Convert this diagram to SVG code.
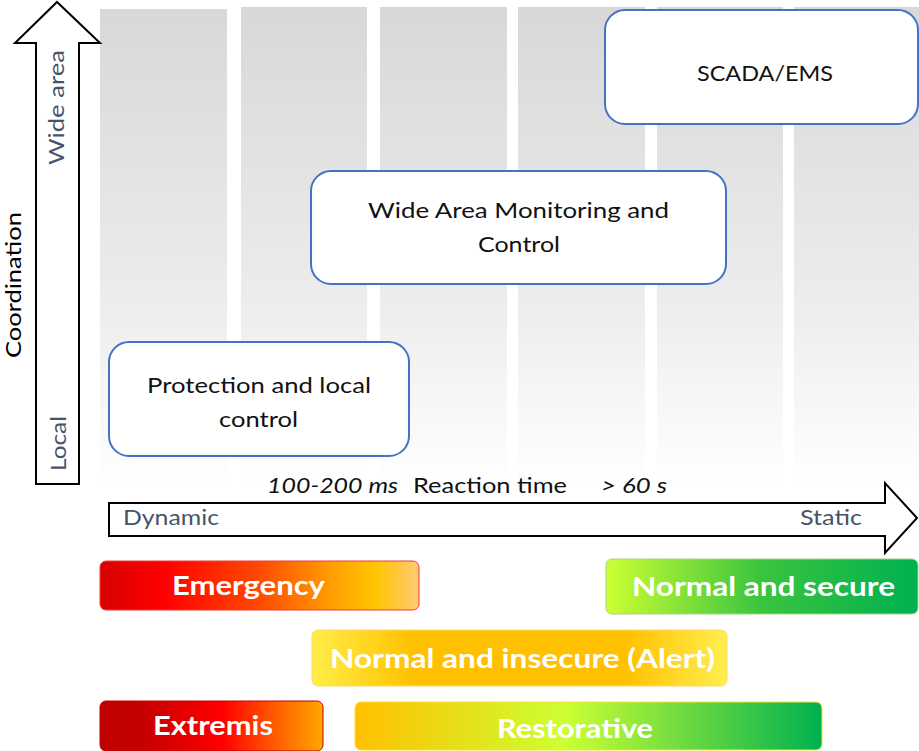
<svg xmlns="http://www.w3.org/2000/svg" width="919" height="751" viewBox="0 0 919 751">
  <defs>
    <linearGradient id="colFade" x1="0" y1="0" x2="0" y2="1">
      <stop offset="0" stop-color="#d8d8d8"/>
      <stop offset="0.6" stop-color="#ececec"/>
      <stop offset="1" stop-color="#ffffff"/>
    </linearGradient>
    <linearGradient id="gEmergency" x1="0" y1="0" x2="1" y2="0">
      <stop offset="0" stop-color="#d80000"/>
      <stop offset="0.2" stop-color="#ff0000"/>
      <stop offset="0.5" stop-color="#ff4a00"/>
      <stop offset="0.72" stop-color="#ff9c00"/>
      <stop offset="0.86" stop-color="#ffc400"/>
      <stop offset="1" stop-color="#ffcb74"/>
    </linearGradient>
    <linearGradient id="gExtremis" x1="0" y1="0" x2="1" y2="0">
      <stop offset="0" stop-color="#c00000"/>
      <stop offset="0.18" stop-color="#c40000"/>
      <stop offset="0.55" stop-color="#ff0000"/>
      <stop offset="0.78" stop-color="#ff5a00"/>
      <stop offset="1" stop-color="#ffa800"/>
    </linearGradient>
    <linearGradient id="gAlert" x1="0" y1="0" x2="1" y2="0">
      <stop offset="0" stop-color="#ffee48"/>
      <stop offset="0.25" stop-color="#ffc000"/>
      <stop offset="0.75" stop-color="#ffc000"/>
      <stop offset="1" stop-color="#ffee50"/>
    </linearGradient>
    <linearGradient id="gRestorative" x1="0" y1="0" x2="1" y2="0">
      <stop offset="0" stop-color="#ffc000"/>
      <stop offset="0.45" stop-color="#ccff33"/>
      <stop offset="1" stop-color="#00b050"/>
    </linearGradient>
    <linearGradient id="gSecure" x1="0" y1="0" x2="1" y2="0">
      <stop offset="0" stop-color="#ccff33"/>
      <stop offset="0.5" stop-color="#3ac43e"/>
      <stop offset="1" stop-color="#00b050"/>
    </linearGradient>
  </defs>
  <style>
    .col { fill: url(#colFade); }
    .axis { fill: #ffffff; stroke: #000000; stroke-width: 2; stroke-linejoin: miter; }
    .box { fill: #ffffff; stroke: #4472c4; stroke-width: 2; }
    .boxText { font-family: Lato, "Liberation Sans", sans-serif; font-size: 22px; fill: #111111; text-anchor: middle; }
    .slate { font-family: Lato, "Liberation Sans", sans-serif; font-size: 22px; fill: #44546a; }
    .axisTitle { font-family: Lato, "Liberation Sans", sans-serif; font-size: 22px; fill: #000000; }
    .time { font-family: Lato, "Liberation Sans", sans-serif; font-size: 22px; fill: #111111; }
    .state { font-family: Lato, "Liberation Sans", sans-serif; font-size: 27px; font-weight: bold; fill: #ffffff; text-anchor: middle; }
  </style>

  <!-- background time-scale columns -->
  <g id="columns">
    <rect class="col" x="100" y="9" width="127" height="477"/>
    <rect class="col" x="241" y="7" width="126" height="479"/>
    <rect class="col" x="380" y="7" width="127" height="479"/>
    <rect class="col" x="518" y="7" width="127" height="479"/>
    <rect class="col" x="657" y="7" width="126" height="479"/>
    <rect class="col" x="794" y="7" width="125" height="479"/>
  </g>

  <!-- coordination axis (vertical block arrow) -->
  <g id="coordination-axis">
    <polygon class="axis" points="36,484 36,43 15,43 57,2 100,43 79,43 79,484"/>
    <text class="slate" transform="translate(64,165) rotate(-90)" textLength="115" lengthAdjust="spacingAndGlyphs">Wide area</text>
    <text class="slate" transform="translate(66,471) rotate(-90)" textLength="55" lengthAdjust="spacingAndGlyphs">Local</text>
    <text class="axisTitle" transform="translate(21,358) rotate(-90)" textLength="146" lengthAdjust="spacingAndGlyphs">Coordination</text>
  </g>

  <!-- reaction time axis (horizontal block arrow) -->
  <g id="time-axis">
    <polygon class="axis" points="109,503 885,503 885,483 917,518 885,553 885,536 109,536"/>
    <text class="slate" x="123" y="525" textLength="96" lengthAdjust="spacingAndGlyphs">Dynamic</text>
    <text class="slate" x="800" y="525" textLength="62" lengthAdjust="spacingAndGlyphs">Static</text>
    <text class="time" x="267" y="493" font-style="italic" textLength="131" lengthAdjust="spacingAndGlyphs">100-200 ms</text>
    <text class="time" x="413" y="493" textLength="154" lengthAdjust="spacingAndGlyphs">Reaction time</text>
    <text class="time" x="601" y="493" font-style="italic" textLength="66" lengthAdjust="spacingAndGlyphs">&gt; 60 s</text>
  </g>

  <!-- control layers -->
  <g id="scada-ems">
    <rect class="box" x="605" y="10" width="313" height="114" rx="20"/>
    <text class="boxText" x="765" y="81" textLength="136" lengthAdjust="spacingAndGlyphs">SCADA/EMS</text>
  </g>
  <g id="wide-area-monitoring">
    <rect class="box" x="311" y="171" width="415" height="113" rx="20"/>
    <text class="boxText" x="518.5" y="218" textLength="301" lengthAdjust="spacingAndGlyphs">Wide Area Monitoring and</text>
    <text class="boxText" x="519" y="252" textLength="82" lengthAdjust="spacingAndGlyphs">Control</text>
  </g>
  <g id="protection-local">
    <rect class="box" x="109" y="342" width="300" height="114" rx="20"/>
    <text class="boxText" x="259" y="393" textLength="224" lengthAdjust="spacingAndGlyphs">Protection and local</text>
    <text class="boxText" x="258.5" y="427" textLength="79" lengthAdjust="spacingAndGlyphs">control</text>
  </g>

  <!-- operating states -->
  <g id="state-emergency">
    <rect x="100" y="561" width="319" height="49" rx="6" fill="url(#gEmergency)" stroke="#f03a3a" stroke-width="1"/>
    <text class="state" x="248.5" y="595" textLength="153" lengthAdjust="spacingAndGlyphs">Emergency</text>
  </g>
  <g id="state-normal-secure">
    <rect x="606" y="559" width="312" height="55" rx="6" fill="url(#gSecure)" stroke="#a9d18e" stroke-width="1"/>
    <text class="state" x="763.5" y="596" textLength="263" lengthAdjust="spacingAndGlyphs">Normal and secure</text>
  </g>
  <g id="state-alert">
    <rect x="312" y="630" width="415" height="56" rx="6" fill="url(#gAlert)" stroke="#ffd966" stroke-width="1"/>
    <text class="state" x="522.5" y="668" textLength="385" lengthAdjust="spacingAndGlyphs">Normal and insecure (Alert)</text>
  </g>
  <g id="state-extremis">
    <rect x="100" y="701" width="223" height="50" rx="6" fill="url(#gExtremis)" stroke="#c00000" stroke-width="1"/>
    <text class="state" x="213" y="735" textLength="120" lengthAdjust="spacingAndGlyphs">Extremis</text>
  </g>
  <g id="state-restorative">
    <rect x="355" y="702" width="467" height="48" rx="6" fill="url(#gRestorative)" stroke="#ffe033" stroke-width="1"/>
    <text class="state" x="575" y="738" textLength="156" lengthAdjust="spacingAndGlyphs">Restorative</text>
  </g>
</svg>
